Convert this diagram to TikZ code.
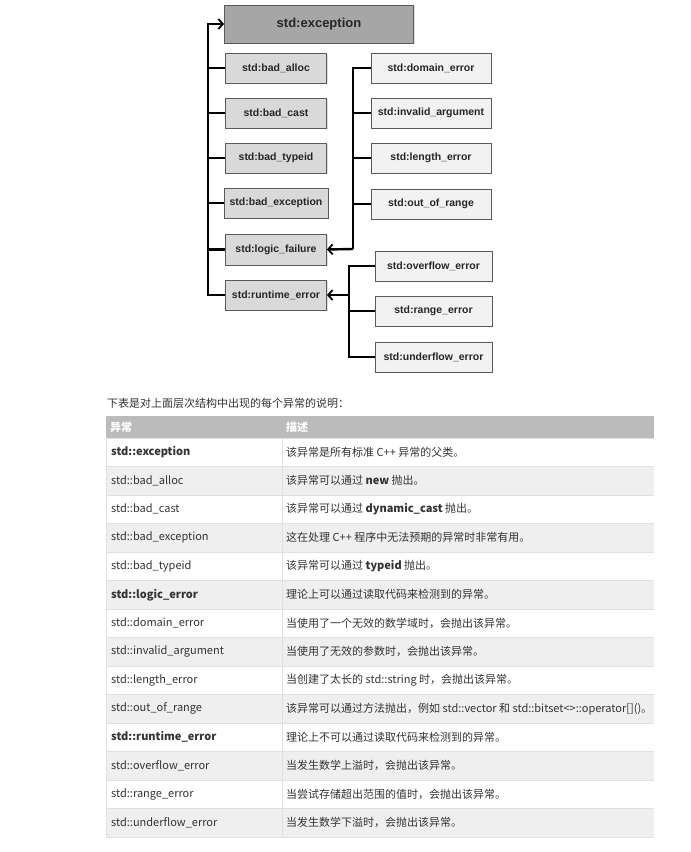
\documentclass[tikz,border=0pt]{standalone}
\usepackage{fontspec}
\setmainfont{Liberation Sans}
\newfontfamily\cjk{Noto Sans CJK SC}
\usetikzlibrary{arrows.meta,shadows}
\definecolor{boxline}{HTML}{5A5A5A}
\definecolor{rootfill}{HTML}{A6A6A6}
\definecolor{lfill}{HTML}{D9D9D9}
\definecolor{rfill}{HTML}{F2F2F2}
\definecolor{hdr}{HTML}{BBBBBB}
\definecolor{rowgrey}{HTML}{EFEFEF}
\definecolor{sepc}{HTML}{E0E0E0}
\definecolor{txt}{HTML}{333333}
\begin{document}
\begin{tikzpicture}[x=1pt,y=-1pt,
  box/.style={draw=boxline, line width=0.8pt, inner sep=0pt, minimum height=30pt,
    font=\bfseries\fontsize{10.5}{12}\selectfont, text=black!85,
    drop shadow={shadow xshift=1pt, shadow yshift=-1pt, opacity=0.25}},
  root/.style={box, fill=rootfill, minimum width=189pt, minimum height=38pt,
    font=\bfseries\fontsize{13}{15}\selectfont},
  lbox/.style={box, fill=lfill, minimum width=101pt},
  rbox/.style={box, fill=rfill, minimum width=120pt},
  r2box/.style={box, fill=rfill, minimum width=117pt},
  conn/.style={line width=2.4pt, black},
  arr/.style={conn, -{Straight Barb[length=4.5pt,width=10pt,line width=1.8pt]}},
  sep/.style={draw=sepc, line width=0.8pt},
  cell/.style={anchor=west, inner sep=0pt, text=txt, font=\cjk\fontsize{11}{13}\selectfont},
  hcell/.style={cell, text=white, font=\cjk\bfseries\fontsize{11}{13}\selectfont}]
\useasboundingbox (0,0) rectangle (691,852);
\fill[white] (0,0) rectangle (691,852);

% ---------- hierarchy ----------
\node[root] (exc) at (319,24) {std:exception};
\node[lbox] (alloc) at (276,68) {std:bad\_alloc};
\node[lbox] (cast) at (276,113) {std:bad\_cast};
\node[lbox] (typeid) at (276,158) {std:bad\_typeid};
\node[lbox, minimum width=104pt] (badexc) at (276,203) {std:bad\_exception};
\node[lbox, minimum height=31pt] (logic) at (276,249.5) {std:logic\_failure};
\node[lbox] (runtime) at (276,295) {std:runtime\_error};

\node[rbox] (domain) at (431,68) {std:domain\_error};
\node[rbox] (invalid) at (431,113) {std:invalid\_argument};
\node[rbox] (length) at (431,158) {std:length\_error};
\node[rbox] (outrange) at (431,204) {std:out\_of\_range};

\node[r2box] (overflow) at (433.5,266) {std:overflow\_error};
\node[r2box] (range) at (433.5,311) {std:range\_error};
\node[r2box] (underflow) at (433.5,357) {std:underflow\_error};

\coordinate (t0) at (208,295);
\coordinate (t1) at (353,249);
\coordinate (t2) at (349,295);

% left trunk
\draw[arr] (runtime.west) -- (runtime.west -| t0) |- (exc.west);
\foreach \n in {alloc,cast,typeid,badexc,logic}
  \draw[conn] (\n.west) -- (\n.west -| t0);
% right trunk 1
\draw[conn] (domain.west) -| (t1);
\foreach \n in {invalid,length,outrange}
  \draw[conn] (\n.west) -- (\n.west -| t1);
\draw[arr] (t1) -- (logic.east);
% right trunk 2
\draw[conn] (overflow.west) -| (underflow.west -| t2) -- (underflow.west);
\draw[conn] (range.west) -- (range.west -| t2);
\draw[arr] (t2) -- (runtime.east);

% ---------- table ----------
\node[cell] (intro) at (107,403) {下表是对上面层次结构中出现的每个异常的说明：};
\fill[hdr] (106,416) rectangle (654,438);
\foreach \k in {2,4,...,14}
  \fill[rowgrey] (106,{438+28.5*(\k-1)}) rectangle (654,{438+28.5*\k});
\foreach \k in {0,...,14}
  \draw[sep] (106,{438+28.5*\k}) -- (654,{438+28.5*\k});
\draw[sep] (106,438) -- (106,837);
\draw[sep] (282,438) -- (282,837);

\node[hcell] (h1) at (110,427) {异常};
\node[hcell] (h2) at (286,427) {描述};

\node[cell] (a1) at (111,452.25) {\bfseries std::exception};
\node[cell] (b1) at (286,452.25) {该异常是所有标准 C++ 异常的父类。};
\node[cell] (a2) at (111,480.75) {std::bad\_alloc};
\node[cell] (b2) at (286,480.75) {该异常可以通过 \textbf{new} 抛出。};
\node[cell] (a3) at (111,509.25) {std::bad\_cast};
\node[cell] (b3) at (286,509.25) {该异常可以通过 \textbf{dynamic\_cast} 抛出。};
\node[cell] (a4) at (111,537.75) {std::bad\_exception};
\node[cell] (b4) at (286,537.75) {这在处理 C++ 程序中无法预期的异常时非常有用。};
\node[cell] (a5) at (111,566.25) {std::bad\_typeid};
\node[cell] (b5) at (286,566.25) {该异常可以通过 \textbf{typeid} 抛出。};
\node[cell] (a6) at (111,594.75) {\bfseries std::logic\_error};
\node[cell] (b6) at (286,594.75) {理论上可以通过读取代码来检测到的异常。};
\node[cell] (a7) at (111,623.25) {std::domain\_error};
\node[cell] (b7) at (286,623.25) {当使用了一个无效的数学域时，会抛出该异常。};
\node[cell] (a8) at (111,651.75) {std::invalid\_argument};
\node[cell] (b8) at (286,651.75) {当使用了无效的参数时，会抛出该异常。};
\node[cell] (a9) at (111,680.25) {std::length\_error};
\node[cell] (b9) at (286,680.25) {当创建了太长的 std::string 时，会抛出该异常。};
\node[cell] (a10) at (111,708.75) {std::out\_of\_range};
\node[cell] (b10) at (286,708.75) {该异常可以通过方法抛出，例如 std::vector 和 std::bitset<>::operator[]()。};
\node[cell] (a11) at (111,737.25) {\bfseries std::runtime\_error};
\node[cell] (b11) at (286,737.25) {理论上不可以通过读取代码来检测到的异常。};
\node[cell] (a12) at (111,765.75) {std::overflow\_error};
\node[cell] (b12) at (286,765.75) {当发生数学上溢时，会抛出该异常。};
\node[cell] (a13) at (111,794.25) {std::range\_error};
\node[cell] (b13) at (286,794.25) {当尝试存储超出范围的值时，会抛出该异常。};
\node[cell] (a14) at (111,822.75) {std::underflow\_error};
\node[cell] (b14) at (286,822.75) {当发生数学下溢时，会抛出该异常。};
\end{tikzpicture}
\end{document}
